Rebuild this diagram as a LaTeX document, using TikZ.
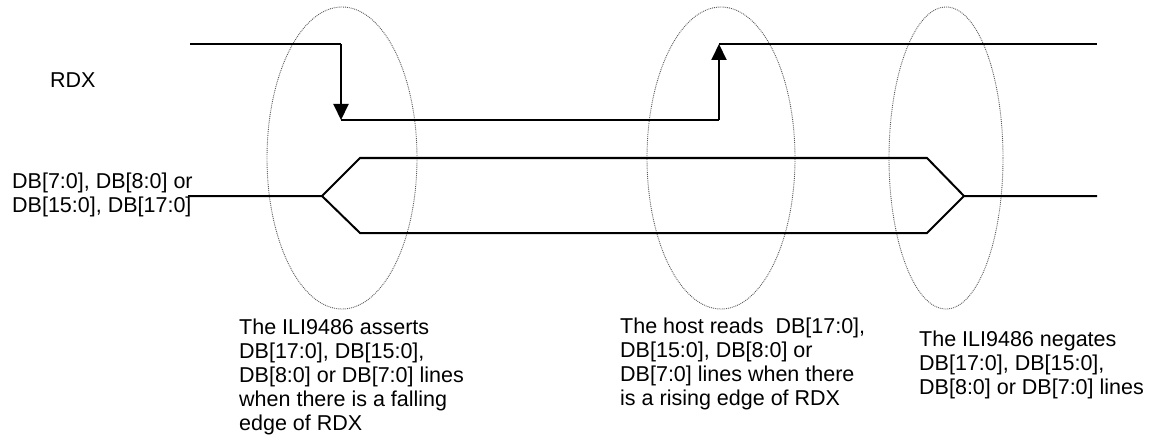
\documentclass[tikz,border=0pt]{standalone}
\usepackage{fontspec}
\setmainfont{Liberation Sans}
\usepackage{tikz}
\usetikzlibrary{arrows.meta,shapes.geometric}
\newcommand{\RDX}{RDX}

\begin{document}
\begin{tikzpicture}[x=1pt, y=-1pt, >={Triangle[length=16pt,width=15pt]}, font=\fontsize{21.5}{24}\selectfont]
        \tikzset{
           signal/.style={
                        draw=black,
                        line width=2pt
                       },
           edgeMark/.style={
                        ellipse,
                        draw=black!65,
                        densely dotted,
                        line width=0.9pt,
                        inner sep=0pt,
                        minimum height=302pt
                       },
           sigName/.style={
                        align=left,
                        anchor=north west,
                        inner sep=0pt,
                        text=black
                       },
           note/.style={
                        align=left,
                        anchor=north west,
                        inner sep=0pt,
                        text=black
                       },
                 };
        \useasboundingbox (0,0) rectangle (1151,441);
    %--------------------
        \coordinate (rdxStart)  at (190,44);
        \coordinate (rdxFall)   at (341,44);
        \coordinate (rdxLow)    at (341,120);
        \coordinate (rdxRiseLo) at (719,120);
        \coordinate (rdxRise)   at (719,44);
        \coordinate (rdxEnd)    at (1097,44);

        \coordinate (dbStart)   at (188,196);
        \coordinate (dbOpen)    at (322,196);
        \coordinate (dbTopL)    at (360,158);
        \coordinate (dbBotL)    at (360,233);
        \coordinate (dbTopR)    at (927,158);
        \coordinate (dbBotR)    at (927,233);
        \coordinate (dbClose)   at (964,196);
        \coordinate (dbEnd)     at (1097,196);
    %--------------------
        \node[edgeMark, minimum width=150pt] (fallMark) at (342,158) {};
        \node[edgeMark, minimum width=148pt] (riseMark) at (721,158) {};
        \node[edgeMark, minimum width=114pt] (negMark)  at (946,158) {};

        \node[sigName] (rdxName) at (50,73)  {\RDX};
        \node[sigName] (dbName)  at (12,173) {DB[7:0], DB[8:0] or\\DB[15:0], DB[17:0]};

        \node[note] (assertNote) at (239,319) {The ILI9486 asserts\\DB[17:0], DB[15:0],\\DB[8:0] or DB[7:0] lines\\when there is a falling\\edge of \RDX};
        \node[note] (readNote)   at (620,318) {The host reads\ \ DB[17:0],\\DB[15:0], DB[8:0] or\\DB[7:0] lines when there\\is a rising edge of \RDX};
        \node[note] (negateNote) at (919,331) {The ILI9486 negates\\DB[17:0], DB[15:0],\\DB[8:0] or DB[7:0] lines};
    %--------------------
        \draw[signal]     (rdxStart)  -- (rdxFall);
        \draw[signal, ->] (rdxFall)   -- (rdxLow);
        \draw[signal]     (rdxLow)    -- (rdxRiseLo);
        \draw[signal, ->] (rdxRiseLo) -- (rdxRise);
        \draw[signal]     (rdxRise)   -- (rdxEnd);

        \draw[signal] (dbStart) -- (dbOpen)
                      (dbOpen)  -- (dbTopL) -- (dbTopR) -- (dbClose)
                      (dbOpen)  -- (dbBotL) -- (dbBotR) -- (dbClose)
                      (dbClose) -- (dbEnd);
    \end{tikzpicture}
\end{document}
